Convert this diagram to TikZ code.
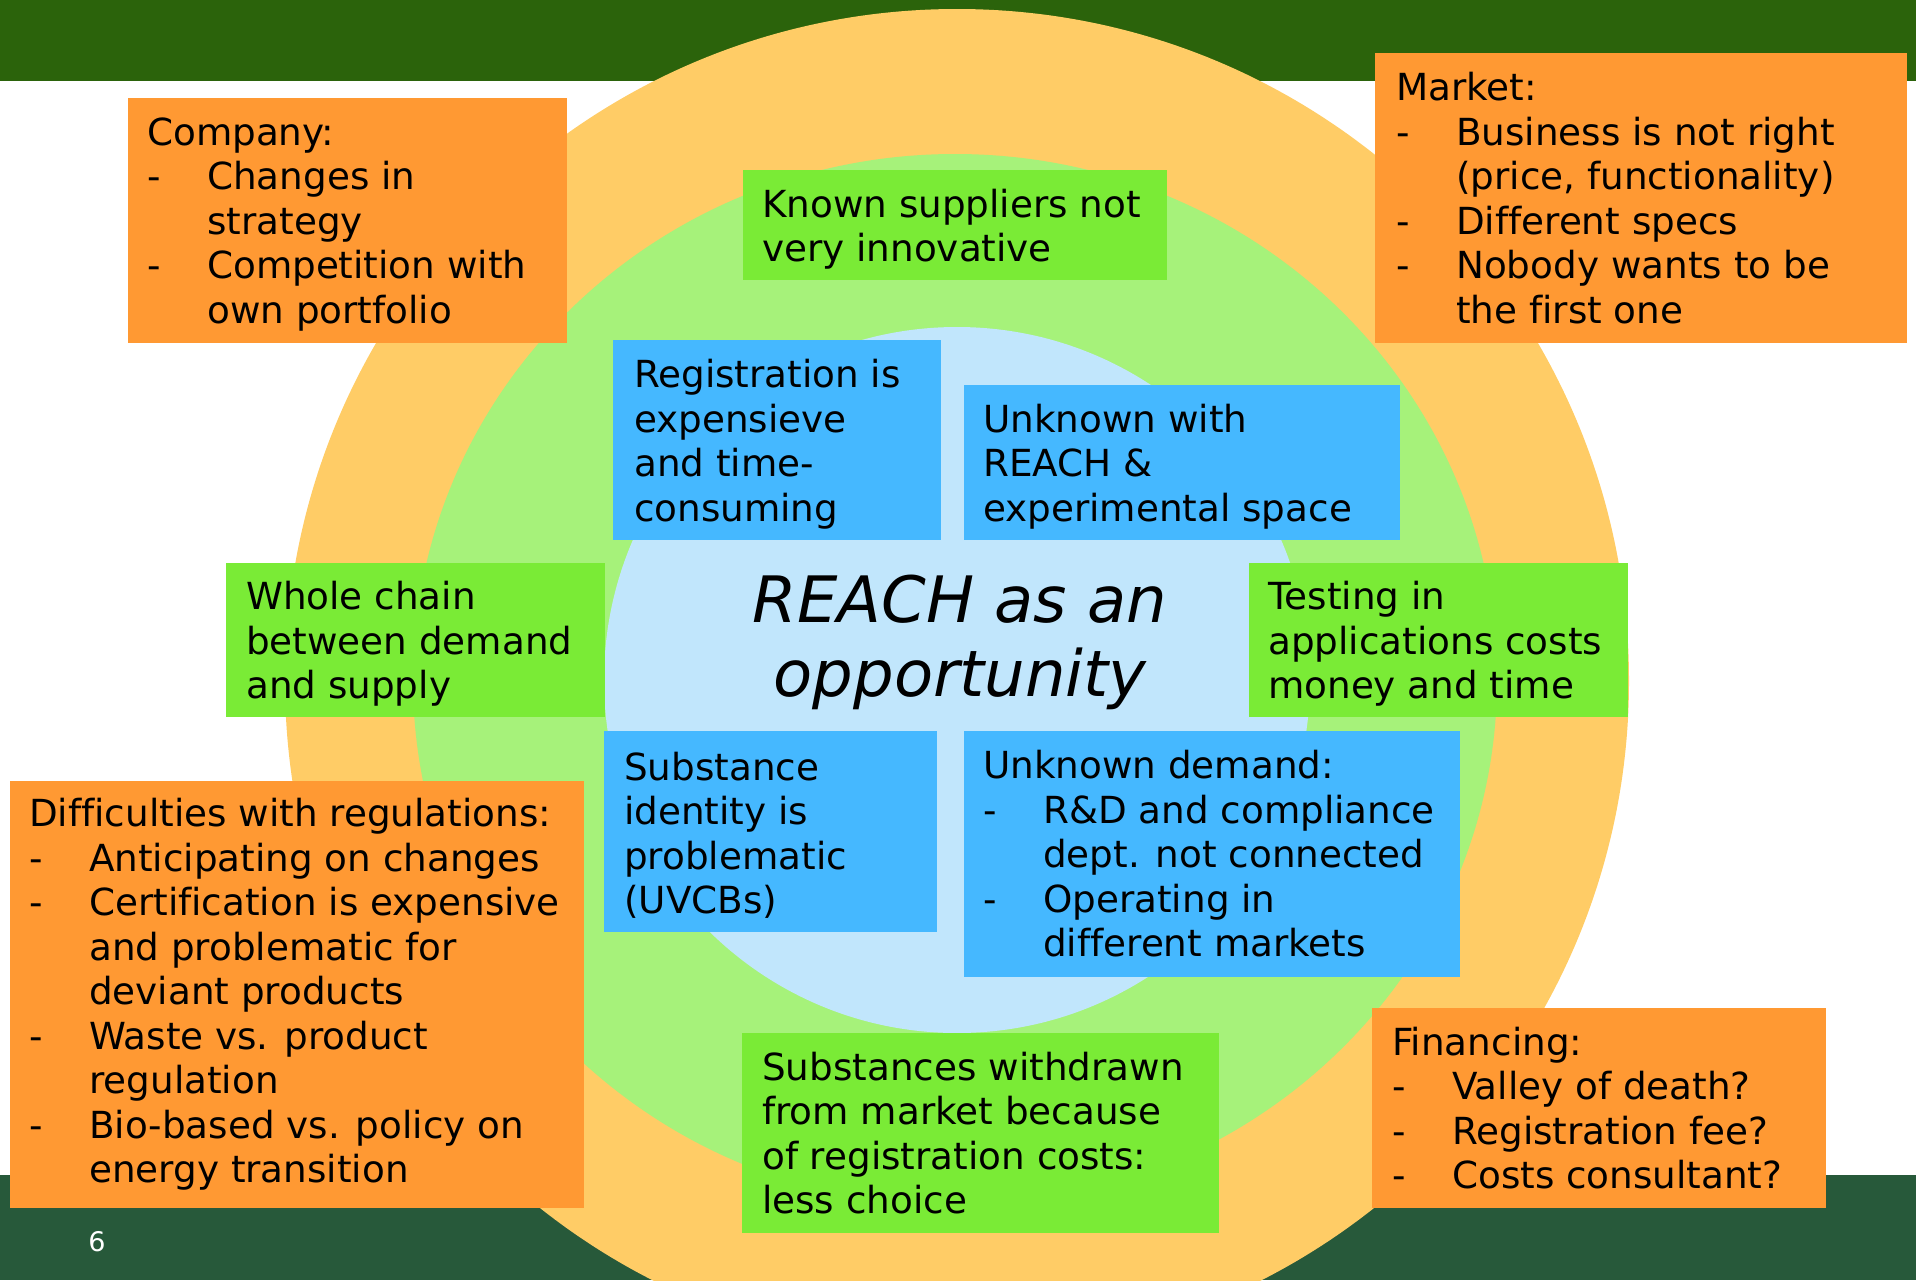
\documentclass[tikz,border=0pt]{standalone}
\usepackage{fontspec}
\setmainfont[Ligatures=NoCommon]{DejaVu Sans}
\usepackage{tikz}

\definecolor{topgreen}{RGB}{43,99,11}
\definecolor{footgreen}{RGB}{39,89,58}
\definecolor{ringorange}{RGB}{255,204,102}
\definecolor{ringgreen}{RGB}{166,242,122}
\definecolor{ringblue}{RGB}{193,230,252}
\definecolor{boxorange}{RGB}{255,153,51}
\definecolor{boxgreen}{RGB}{122,235,54}
\definecolor{boxblue}{RGB}{69,184,255}

\newcommand{\itemdash}{\makebox[60pt][l]{-}}
\newcommand{\itemgap}{\hspace*{60pt}}

\begin{document}
\begin{tikzpicture}[x=1pt, y=-1pt,
        panel/.style={anchor=north west, inner sep=0pt, outer sep=0pt},
        orangebox/.style={panel, fill=boxorange},
        greenbox/.style={panel, fill=boxgreen},
        bluebox/.style={panel, fill=boxblue},
        txt/.style={anchor=west, align=left, inner sep=0pt,
            font=\fontsize{37.3}{44.5}\selectfont},
        txtlow/.style={txt, yshift=-4pt}]
        \useasboundingbox (0, 0) rectangle (1916, 1280);

        % bands and rings
        \fill[topgreen] (0, 0) rectangle (1916, 81);
        \fill[footgreen] (0, 1175) rectangle (1916, 1280);
        \fill[ringorange] (957, 681) circle (672pt);
        \fill[ringgreen] (955, 680) ellipse [x radius=542pt, y radius=526pt];
        \fill[ringblue] (957, 680) circle (353pt);

        \node[font=\fontsize{64}{74}\selectfont\itshape, align=center] (reach) at (960, 642)
        {REACH as an\\opportunity};

        % outer ring: orange
        \node[orangebox, minimum width=439pt, minimum height=245pt] (company) at (128, 98) {};
        \node[txtlow] (companytxt) at ([xshift=19pt]company.west)
        {Company:\\ \itemdash Changes in\\ \itemgap strategy\\ \itemdash Competition with\\ \itemgap own portfolio};

        \node[orangebox, minimum width=532pt, minimum height=290pt] (market) at (1375, 53) {};
        \node[txt] (markettxt) at ([xshift=21pt]market.west)
        {Market:\\ \itemdash Business is not right\\ \itemgap (price, functionality)\\ \itemdash Different specs\\
        \itemdash Nobody wants to be\\ \itemgap the first one};

        \node[orangebox, minimum width=574pt, minimum height=427pt] (regul) at (10, 781) {};
        \node[txt] (regultxt) at ([xshift=19pt]regul.west)
        {Difficulties with regulations:\\ \itemdash Anticipating on changes\\ \itemdash Certification is expensive\\
        \itemgap and problematic for\\ \itemgap deviant products\\ \itemdash Waste vs. product\\ \itemgap regulation\\
        \itemdash Bio-based vs. policy on\\ \itemgap energy transition};

        \node[orangebox, minimum width=454pt, minimum height=200pt] (financing) at (1372, 1008) {};
        \node[txt] (financingtxt) at ([xshift=20pt]financing.west)
        {Financing:\\ \itemdash Valley of death?\\ \itemdash Registration fee?\\ \itemdash Costs consultant?};

        % middle ring: green
        \node[greenbox, minimum width=424pt, minimum height=110pt] (known) at (743, 170) {};
        \node[txtlow] (knowntxt) at ([xshift=19pt]known.west) {Known suppliers not\\ very innovative};

        \node[greenbox, minimum width=379pt, minimum height=154pt] (chain) at (226, 563) {};
        \node[txtlow] (chaintxt) at ([xshift=20pt]chain.west) {Whole chain\\ between demand\\ and supply};

        \node[greenbox, minimum width=379pt, minimum height=154pt] (testing) at (1249, 563) {};
        \node[txtlow] (testingtxt) at ([xshift=19pt]testing.west) {Testing in\\ applications costs\\ money and time};

        \node[greenbox, minimum width=477pt, minimum height=200pt] (withdrawn) at (742, 1033) {};
        \node[txt] (withdrawntxt) at ([xshift=20pt]withdrawn.west)
        {Substances withdrawn\\ from market because\\ of registration costs:\\ less choice};

        % inner ring: blue
        \node[bluebox, minimum width=328pt, minimum height=200pt] (regist) at (613, 340) {};
        \node[txtlow] (registtxt) at ([xshift=21pt]regist.west) {Registration is\\ expensieve\\ and time-\\ consuming};

        \node[bluebox, minimum width=436pt, minimum height=155pt] (unkreach) at (964, 385) {};
        \node[txtlow] (unkreachtxt) at ([xshift=19pt]unkreach.west) {Unknown with\\ REACH \&\\ experimental space};

        \node[bluebox, minimum width=333pt, minimum height=201pt] (identity) at (604, 731) {};
        \node[txtlow] (identitytxt) at ([xshift=20pt]identity.west) {Substance\\ identity is\\ problematic\\ (UVCBs)};

        \node[bluebox, minimum width=496pt, minimum height=246pt] (unkdemand) at (964, 731) {};
        \node[txt] (unkdemandtxt) at ([xshift=19pt]unkdemand.west)
        {Unknown demand:\\ \itemdash R\&D and compliance\\ \itemgap dept. not connected\\ \itemdash Operating in\\
        \itemgap different markets};

        \node[white, font=\fontsize{27}{32}\selectfont] (pagenum) at (97, 1242) {6};
\end{tikzpicture}
\end{document}
